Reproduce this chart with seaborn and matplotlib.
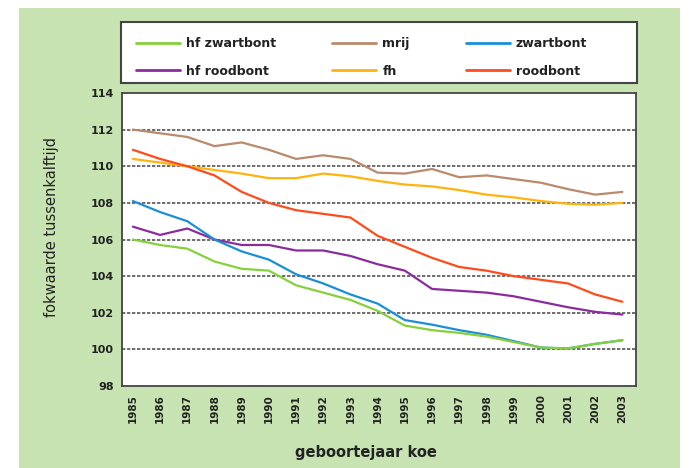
import matplotlib
matplotlib.use("Agg")
import matplotlib.pyplot as plt
import seaborn as sns
import pandas as pd
from matplotlib.patches import Rectangle
from matplotlib.lines import Line2D

years = list(range(1985, 2004))
hf_zwartbont = [106.0, 105.7, 105.5, 104.8, 104.4, 104.3, 103.5, 103.1, 102.7, 102.1,
                101.3, 101.05, 100.9, 100.7, 100.4, 100.1, 100.05, 100.3, 100.5]
mrij = [112.0, 111.8, 111.6, 111.1, 111.3, 110.9, 110.4, 110.6, 110.4, 109.65,
        109.6, 109.85, 109.4, 109.5, 109.3, 109.1, 108.75, 108.45, 108.6]
zwartbont = [108.1, 107.5, 107.0, 106.0, 105.35, 104.9, 104.1, 103.6, 103.0, 102.5,
             101.6, 101.35, 101.05, 100.8, 100.45, 100.1, 100.05, 100.3, 100.5]
hf_roodbont = [106.7, 106.25, 106.6, 106.0, 105.7, 105.7, 105.4, 105.4, 105.1, 104.65,
               104.3, 103.3, 103.2, 103.1, 102.9, 102.6, 102.3, 102.05, 101.9]
fh = [110.4, 110.2, 110.0, 109.8, 109.6, 109.35, 109.35, 109.6, 109.45, 109.2,
      109.0, 108.9, 108.7, 108.45, 108.3, 108.1, 107.95, 107.9, 108.0]
roodbont = [110.9, 110.4, 110.0, 109.5, 108.6, 108.0, 107.6, 107.4, 107.2, 106.2,
            105.6, 105.0, 104.5, 104.3, 104.0, 103.8, 103.6, 103.0, 102.6]

series_names = ["hf zwartbont", "mrij", "zwartbont", "hf roodbont", "fh", "roodbont"]
series_values = [hf_zwartbont, mrij, zwartbont, hf_roodbont, fh, roodbont]
colors = {"hf zwartbont": "#86d03c", "mrij": "#b98a6c", "zwartbont": "#1a8fd6",
          "hf roodbont": "#8a2c9c", "fh": "#ffb30f", "roodbont": "#ff4b1c"}
yticks = [98, 100, 102, 104, 106, 108, 110, 112, 114]

rows = []
for name, vals in zip(series_names, series_values):
    for y, v in zip(years, vals):
        rows.append({"jaar": y, "waarde": v, "ras": name})
df = pd.DataFrame(rows)

sns.set_style("white")
plt.rcParams["font.family"] = ["DejaVu Sans"]

W, H = 690, 468
fig = plt.figure(figsize=(6.9, 4.68), dpi=100, facecolor="white")
fig.patches.append(Rectangle((19 / W, 0), (680 - 19) / W, 1 - 8 / H,
                             transform=fig.transFigure, facecolor="#c6e3b1",
                             edgecolor="none", zorder=-10))
# legend box
fig.patches.append(Rectangle((121 / W, 1 - 83 / H), (637 - 121) / W, (83 - 22) / H,
                             transform=fig.transFigure, facecolor="white",
                             edgecolor="#444444", linewidth=1.5, zorder=-5))
ax = fig.add_axes([122 / W, 1 - 386 / H, (636 - 122) / W, (386 - 93) / H])
ax.set_facecolor("white")

# draw order: back to front
order = ["mrij", "fh", "roodbont", "hf roodbont", "zwartbont", "hf zwartbont"]
for name in order:
    sns.lineplot(data=df[df["ras"] == name], x="jaar", y="waarde", color=colors[name],
                 linewidth=1.6, ax=ax, legend=False)

ax.set_xlim(1984.6, 2003.5)
ax.set_ylim(98, 114)
ax.set_yticks(yticks)
ax.set_yticklabels([str(t) for t in yticks], fontsize=8, fontweight="bold", color="#222222")
ax.set_xticks(years)
ax.set_xticklabels([str(y) for y in years], rotation=90, fontsize=7.5,
                   fontweight="bold", color="#222222")
ax.tick_params(axis="x", direction="in", length=4, color="#555555", pad=6)
ax.tick_params(axis="y", length=0, pad=6)
for t in yticks[1:-1]:
    ax.axhline(t, color="#555555", linestyle=(0, (2, 1)), linewidth=1.2, zorder=0.5)
for s in ax.spines.values():
    s.set_color("#444444")
    s.set_linewidth(1.3)

ax.set_xlabel("geboortejaar koe", fontsize=10.5, fontweight="bold", color="#222222")
ax.xaxis.set_label_coords((366 - 122) / (636 - 122), -(453 - 386) / (386 - 93), transform=ax.transAxes)
ax.xaxis.label.set_verticalalignment("center")
ax.set_ylabel("fokwaarde tussenkalftijd", fontsize=10.5, color="#222222")
ax.yaxis.set_label_coords(-(122 - 52) / (636 - 122), (386 - 227) / (386 - 93), transform=ax.transAxes)
ax.yaxis.label.set_verticalalignment("center")

leg_order = ["hf zwartbont", "hf roodbont", "mrij", "fh", "zwartbont", "roodbont"]
handles = [Line2D([0], [0], color=colors[n], linewidth=2) for n in leg_order]
leg = fig.legend(handles, leg_order, ncol=3, loc="center left",
                 bbox_to_anchor=(136 / W, 1 - 57.5 / H),
                 frameon=False, fontsize=9,
                 handlelength=3.5, handletextpad=0.5, borderaxespad=0, labelspacing=1.15,
                 borderpad=0, columnspacing=4.5)
for t in leg.get_texts():
    t.set_fontweight("bold")
    t.set_color("#222222")

fig.savefig("out.png", dpi=100, facecolor="white")
